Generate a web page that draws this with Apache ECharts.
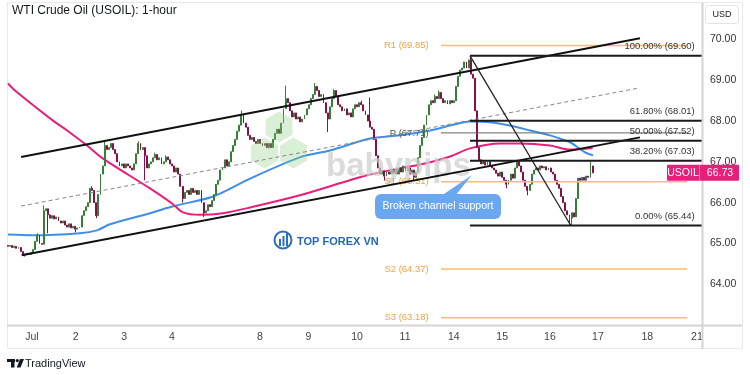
<!DOCTYPE html>
<html><head><meta charset="utf-8">
<script src="https://cdn.jsdelivr.net/npm/echarts@6/dist/echarts.min.js"></script>
<style>html,body{margin:0;padding:0;background:#fff}#c{width:750px;height:375px}</style>
</head><body><div id="c"></div>
<script>
// ---- DATA (hourly bars, index 0 = first visible bar) ----
const firstOpen = 64.95;
const closes = [
64.93,64.95,64.90,64.93,64.88,64.90,64.80,64.74,64.72,64.76,
64.73,64.78,64.85,65.05,65.20,65.00,64.98,65.80,65.85,65.70,
65.62,65.68,65.60,65.65,65.55,65.50,65.55,65.45,65.40,65.48,
65.38,65.42,65.35,65.38,65.40,65.68,65.80,65.90,66.00,66.35,
66.30,66.00,65.68,66.20,66.70,66.90,67.40,67.30,67.35,67.45,
67.30,67.20,67.00,66.90,66.95,66.85,66.95,66.90,66.85,66.80,
66.95,67.20,67.45,67.30,67.35,67.15,66.85,66.95,67.00,67.10,
67.18,67.05,67.10,66.95,67.00,67.12,67.05,66.95,66.90,66.75,
66.85,66.70,66.40,66.10,66.25,66.30,66.20,66.35,66.25,66.30,
66.20,66.30,66.00,65.75,65.80,65.95,65.90,66.05,66.20,66.45,
66.55,66.80,66.85,67.05,66.90,67.00,67.25,67.40,67.55,67.75,
67.90,68.15,67.95,67.85,67.65,67.55,67.60,67.50,67.45,67.55,
67.45,67.40,67.45,67.35,67.45,67.35,67.55,67.70,67.80,67.70,
67.95,68.30,68.55,68.45,68.25,68.10,68.20,68.05,68.10,67.98,
68.05,68.15,68.30,68.40,68.55,68.65,68.85,68.75,68.60,68.65,
68.45,68.20,68.05,68.35,68.55,68.75,68.60,68.40,68.35,68.25,
68.30,68.15,68.20,68.10,68.30,68.40,68.35,68.45,68.40,68.25,
68.15,68.00,67.85,67.80,67.55,67.15,66.85,66.70,66.78,66.65,
66.75,66.70,66.82,66.72,66.80,66.70,66.85,66.75,66.90,66.78,
66.85,66.70,66.80,66.62,66.75,67.10,67.40,67.60,67.90,68.15,
68.40,68.50,68.45,68.60,68.55,68.70,68.55,68.45,68.50,68.42,
68.50,68.45,68.50,68.85,69.10,69.25,69.30,69.45,69.30,69.50,
69.15,69.05,68.25,67.35,67.05,66.95,67.00,66.92,67.00,66.90,
66.85,66.80,66.72,66.65,66.75,66.62,66.55,66.45,66.55,66.70,
66.60,66.85,67.00,66.90,66.75,66.55,66.40,66.30,66.45,66.70,
66.80,66.85,66.80,66.90,66.85,66.88,66.80,66.85,66.75,66.70,
66.55,66.45,66.35,66.15,66.00,65.80,65.70,65.62,65.75,65.65,
66.10,66.60,66.55,66.62,66.55,66.65,66.62,66.90,66.73
];
const wickHigh = [[14,65.25],[17,65.93],[40,66.40],[46,67.52],[62,67.50],[70,67.22],[75,67.16],[111,68.26],
  [132,68.87],[146,68.93],[155,68.78],[168,68.50],[172,68.58],[203,68.65],[205,68.75],[220,69.60],[242,67.05],[277,67.00]];
const wickLow = [[8,64.68],[19,65.25],[32,65.27],[42,65.62],[65,66.55],[83,66.00],[93,65.65],[124,67.33],
  [152,67.73],[179,66.54],[193,66.54],[237,66.35],[247,66.18],[267,65.44],[268,65.44]];

const dayLabels = ['Jul','2','3','4','8','9','10','11','14','15','16','17','18','21'];
const dayLabelPos = [11.4,32.2,55.2,78,119.8,142.9,166,188.8,212,235,257.7,280.5,304,327.6];

const maPink = [[0,68.92],[3.3,68.75],[21.4,68.01],[28.1,67.77],[37.6,67.40],[45.2,67.08],[67.5,66.35],
  [78,65.98],[83.2,65.76],[91.3,65.70],[102.2,65.74],[115.1,65.88],[138.8,66.18],[170.7,66.67],[186.4,66.84],
  [198.3,66.96],[210.2,67.13],[219.7,67.33],[234,67.45],[243.5,67.45],[257.7,67.40],[267.2,67.30],[278,67.34]];
const maBlue = [[0,65.22],[11.9,65.20],[34.2,65.25],[42.3,65.32],[48.5,65.47],[67.5,65.74],[78.5,65.91],
  [97.5,66.15],[115.1,66.59],[138.8,67.11],[153.1,67.28],[172.1,67.57],[186.4,67.65],[200.7,67.77],[210.2,67.89],
  [219.7,67.99],[229.2,67.97],[238.7,67.89],[248.2,67.77],[257.7,67.65],[267.2,67.48],[274.4,67.23],[278.2,67.16]];

const channelUpper = [[6.2,67.12],[300.5,70.03]];
const channelLower = [[6.5,64.71],[300.5,67.60]];
const channelMid = [[6.2,65.915],[300.5,68.815]];

const fibLevels = [100, 61.8, 50, 38.2, 0];
const fibPrices = [69.60, 68.01, 67.52, 67.03, 65.44];
const fibStart = 219.7, fibEnd = 330;
const fibTrend = [[219.7,69.60],[267.6,65.44]];

const pivotNames = ['R1','P','S1','S2','S3'];
const pivotPrices = [69.85, 67.71, 66.51, 64.37, 63.18];
const pivotRange = [205.9, 322.9];

const lastPrice = 66.73;
const yMin = 63, yMax = 70.87, xMax = 330;

// ---- BUILD ----
const hiMap = Object.fromEntries(wickHigh), loMap = Object.fromEntries(wickLow);
const candles = closes.map((c, i) => {
  const o = i === 0 ? firstOpen : closes[i - 1];
  let h = Math.max(o, c), l = Math.min(o, c);
  if (hiMap[i] !== undefined) h = Math.max(h, hiMap[i]);
  if (loMap[i] !== undefined) l = Math.min(l, loMap[i]);
  return [i, o, c, l, h];
});

const FONT = 'Liberation Sans, Arial, sans-serif';
const UP = '#357f39', DOWN = '#85114b';
const ORANGE_LINE = '#f9bd6b', ORANGE_TXT = '#f3a53d';

function seg(data, color, width, z, type) {
  return { type: 'line', data, symbol: 'none', silent: true, z: z || 10, animation: false,
    lineStyle: { color, width, type: type || 'solid' } };
}

const series = [];
series.push({ type: 'line', data: maBlue, symbol: 'none', smooth: 0.3, silent: true, z: 2,
  lineStyle: { color: '#3f8fe6', width: 2 } });
series.push({ type: 'line', data: maPink, symbol: 'none', smooth: 0.3, silent: true, z: 2,
  lineStyle: { color: '#e91e7a', width: 2 } });
series.push({ type: 'candlestick', data: candles, z: 3, barWidth: 1.4, encode: { x: 0, y: [1, 2, 3, 4] },
  itemStyle: { color: UP, color0: DOWN, borderColor: UP, borderColor0: DOWN, borderWidth: 1 } });

// pivots
pivotNames.forEach((n, k) => {
  const p = pivotPrices[k];
  const isP = n === 'P';
  const s = seg([
    { value: [pivotRange[0], p], label: { show: true, position: 'left', distance: 12,
        formatter: n + ' (' + p.toFixed(2) + ')', color: isP ? '#555' : ORANGE_TXT, fontSize: 9.5, fontFamily: FONT } },
    [pivotRange[1], p]], isP ? '#666' : ORANGE_LINE, isP ? 1 : 1.5, 6);
  s.symbol = 'circle'; s.symbolSize = 0.5; s.showSymbol = true;
  s.itemStyle = { color: isP ? '#666' : ORANGE_LINE };
  series.push(s);
});

// channel
series.push(seg(channelUpper, '#111', 2, 10));
series.push(seg(channelLower, '#111', 2, 10));
series.push(seg(channelMid, '#888', 1, 10, [4, 3]));

// fib
fibLevels.forEach((lv, k) => {
  const p = fibPrices[k];
  const s = seg([[fibStart, p],
    { value: [fibEnd, p], label: { show: true, position: 'left', distance: 7, offset: [0, -9],
        formatter: lv.toFixed(2) + '% (' + p.toFixed(2) + ')', color: '#333', fontSize: 9.5, fontFamily: FONT } }],
    '#1a1a1a', 2, 11);
  s.symbol = 'circle'; s.symbolSize = 0.5; s.showSymbol = true; s.itemStyle = { color: '#1a1a1a' };
  series.push(s);
});
series.push(seg(fibTrend, '#222', 1.3, 11));

const chart = echarts.init(document.getElementById('c'), null, { renderer: 'canvas' });

function hex(cx, cy, r) {
  const pts = [];
  for (let a = 0; a < 6; a++) { const t = Math.PI / 180 * (60 * a - 90); pts.push([cx + r * Math.cos(t), cy + r * Math.sin(t)]); }
  return pts;
}

chart.setOption({
  animation: false,
  backgroundColor: '#fff',
  grid: { left: 8, right: 48, top: 4, bottom: 50, containLabel: false },
  xAxis: {
    type: 'value', min: 0, max: xMax,
    axisLine: { show: false }, axisTick: { show: false }, splitLine: { show: false },
    axisLabel: {
      customValues: dayLabelPos, margin: 7, color: '#444', fontSize: 10.5, fontFamily: FONT,
      formatter: v => { const k = dayLabelPos.findIndex(p => Math.abs(p - v) < 0.01); return k >= 0 ? dayLabels[k] : ''; }
    }
  },
  yAxis: {
    type: 'value', position: 'right', min: yMin, max: yMax, interval: 1, scale: true,
    axisLine: { show: false }, axisTick: { show: false }, splitLine: { show: false },
    axisLabel: { margin: 8, color: '#333', fontSize: 10.5, fontFamily: FONT,
      formatter: v => (Math.abs(v - Math.round(v)) < 1e-6 && v >= 64 && v <= 70) ? v.toFixed(2) : '' }
  },
  series
});

const yPx = chart.convertToPixel({ yAxisIndex: 0 }, lastPrice);

const graphic = [
  // frame and axis lines
  { type: 'rect', shape: { x: 7.5, y: 2.5, width: 735, height: 346 }, style: { fill: 'none', stroke: '#e9e9e9', lineWidth: 1 }, z: 1 },
  { type: 'rect', shape: { x: 703, y: 327, width: 38, height: 21 }, style: { fill: '#fff' }, z: 50 },
  { type: 'line', shape: { x1: 7, y1: 325.5, x2: 742, y2: 325.5 }, style: { stroke: '#d4d4d4', lineWidth: 2 }, z: 51 },
  { type: 'line', shape: { x1: 702.5, y1: 3, x2: 702.5, y2: 349 }, style: { stroke: '#d4d4d4', lineWidth: 2 }, z: 51 },
  // title
  { type: 'text', x: 12, y: 11, style: { text: 'WTI Crude Oil (USOIL): 1-hour', fill: '#131722', font: '12px ' + FONT, textVerticalAlign: 'middle' }, z: 60 },
  // USD box
  { type: 'rect', shape: { x: 705.5, y: 5.5, width: 33, height: 18, r: 3 }, style: { fill: '#fff', stroke: '#e3e3e3', lineWidth: 1 }, z: 60 },
  { type: 'text', x: 722, y: 14.5, style: { text: 'USD', fill: '#222', font: '9px ' + FONT, textAlign: 'center', textVerticalAlign: 'middle' }, z: 61 },
  // hexagons (babypips logo)
  { type: 'polygon', shape: { points: hex(279, 127, 15.5) }, style: { fill: 'rgba(140,205,130,0.33)' }, z: 4 },
  { type: 'polygon', shape: { points: hex(264.5, 153, 15.5) }, style: { fill: 'rgba(140,205,130,0.33)' }, z: 4 },
  { type: 'polygon', shape: { points: hex(293.5, 153, 15.5) }, style: { fill: 'rgba(140,205,130,0.33)' }, z: 4 },
  { type: 'text', x: 326, y: 150, style: { text: 'babypips', fill: 'rgba(205,205,205,0.72)', font: 'bold 33px ' + FONT, textVerticalAlign: 'alphabetic' }, z: 4 },
  // TOP FOREX VN
  { type: 'circle', shape: { cx: 283, cy: 240, r: 8.5 }, style: { fill: 'none', stroke: '#2a6fc0', lineWidth: 2 }, z: 60 },
  { type: 'rect', shape: { x: 279, y: 239, width: 2, height: 7 }, style: { fill: '#2a6fc0' }, z: 60 },
  { type: 'rect', shape: { x: 282.5, y: 236, width: 2, height: 10 }, style: { fill: '#2a6fc0' }, z: 60 },
  { type: 'rect', shape: { x: 286, y: 233, width: 2, height: 13 }, style: { fill: '#2a6fc0' }, z: 60 },
  { type: 'text', x: 297, y: 242, style: { text: 'TOP FOREX VN', fill: '#2467b8', font: 'bold 11px ' + FONT, textVerticalAlign: 'middle' }, z: 60 },
  // callout
  { type: 'polygon', shape: { points: [[441, 196], [455, 196], [472, 175]] }, style: { fill: '#6aa7f2' }, z: 60 },
  { type: 'rect', shape: { x: 375, y: 194, width: 126, height: 25, r: 6 }, style: { fill: '#6aa7f2' }, z: 60 },
  { type: 'text', x: 438, y: 206.5, style: { text: 'Broken channel support', fill: '#fff', font: '10.5px ' + FONT, textAlign: 'center', textVerticalAlign: 'middle' }, z: 61 },
  // last price tag
  { type: 'rect', shape: { x: 667, y: yPx - 8, width: 72, height: 16, r: 1 }, style: { fill: '#e91e7a' }, z: 62 },
  { type: 'line', shape: { x1: 699.5, y1: yPx - 8, x2: 699.5, y2: yPx + 8 }, style: { stroke: '#f27bb0', lineWidth: 1 }, z: 63 },
  { type: 'text', x: 683, y: yPx, style: { text: 'USOIL', fill: '#fff', font: '10.5px ' + FONT, textAlign: 'center', textVerticalAlign: 'middle' }, z: 63 },
  { type: 'text', x: 720, y: yPx, style: { text: lastPrice.toFixed(2), fill: '#fff', font: '10.5px ' + FONT, textAlign: 'center', textVerticalAlign: 'middle' }, z: 63 },
  // TradingView logo
  { type: 'rect', shape: { x: 7, y: 359, width: 8, height: 3 }, style: { fill: '#131722' }, z: 60 },
  { type: 'rect', shape: { x: 11, y: 359, width: 3.5, height: 8.5 }, style: { fill: '#131722' }, z: 60 },
  { type: 'circle', shape: { cx: 17.3, cy: 360.6, r: 1.6 }, style: { fill: '#131722' }, z: 60 },
  { type: 'polygon', shape: { points: [[20, 359], [24, 359], [20.5, 367.5], [16.8, 367.5]] }, style: { fill: '#131722' }, z: 60 },
  { type: 'text', x: 25, y: 363.5, style: { text: 'TradingView', fill: '#131722', font: '11px ' + FONT, textVerticalAlign: 'middle' }, z: 60 }
];
chart.setOption({ graphic });
</script>
</body></html>
